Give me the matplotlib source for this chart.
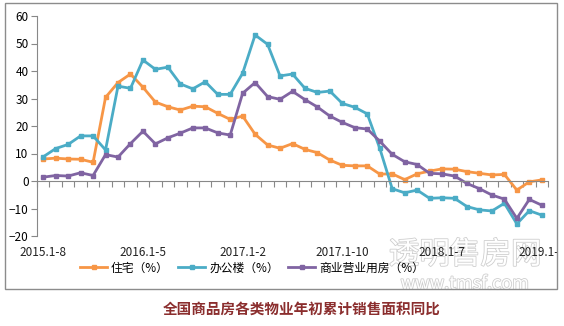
import numpy as np
import matplotlib.pyplot as plt
from matplotlib.patches import Rectangle
from matplotlib.transforms import blended_transform_factory
import matplotlib.patheffects as pe

plt.rcParams['font.family'] = ['Noto Sans CJK SC', 'DejaVu Sans']

# 月份标签 (2015.1-8 ~ 2019.1-4, 每年不含1月单月)
months = []
for y, m0, m1 in [(2015, 8, 12), (2016, 2, 12), (2017, 2, 12), (2018, 2, 12), (2019, 2, 4)]:
    months += [f"{y}.1-{m}" for m in range(m0, m1 + 1)]

zhuzhai = [8.0, 8.3, 8.0, 7.9, 6.8, 30.4, 35.8, 38.9, 34.1, 28.7, 27.0, 25.8, 27.2, 27.0,
           24.6, 22.4, 23.6, 17.0, 13.1, 11.9, 13.6, 11.5, 10.3, 7.6, 5.7, 5.5, 5.5, 2.5,
           2.6, 0.5, 2.6, 3.6, 4.4, 4.3, 3.4, 2.8, 2.2, 2.4, -3.3, -0.3, 0.4]
bangong = [8.8, 11.8, 13.3, 16.4, 16.4, 11.3, 34.5, 33.7, 44.0, 40.6, 41.4, 35.3, 33.5, 36.1,
           31.5, 31.5, 39.2, 53.1, 49.7, 38.2, 38.9, 33.7, 32.2, 32.7, 28.2, 26.8, 24.4, 11.9,
           -2.8, -4.3, -3.3, -6.3, -6.1, -6.3, -9.3, -10.5, -10.9, -8.1, -15.6, -10.8, -12.4]
shangye = [1.4, 2.0, 1.8, 3.0, 2.0, 9.6, 8.7, 13.6, 18.1, 13.5, 15.7, 17.4, 19.3, 19.3,
           17.5, 16.7, 31.9, 35.8, 30.7, 29.7, 32.6, 29.6, 26.9, 23.6, 21.3, 19.4, 18.9, 14.5,
           9.7, 7.0, 6.0, 2.8, 2.6, 1.8, -0.9, -2.8, -5.1, -6.6, -13.6, -6.7, -8.8]

series = [("住宅（%）", zhuzhai, "#F79646"),
          ("办公楼（%）", bangong, "#4BACC6"),
          ("商业营业用房（%）", shangye, "#8064A2")]

W, H = 564, 326
fig = plt.figure(figsize=(W / 100, H / 100), dpi=100)
fig.patch.set_facecolor('white')
ax = fig.add_axes([37 / W, 1 - 236 / H, 511 / W, 220 / H])
ax.patch.set_alpha(0)

x = np.arange(len(months))
for name, vals, c in series:
    ax.plot(x, vals, color=c, lw=2.0, marker='s', ms=3.2, mec=c, mfc=c, label=name)

ax.set_xlim(-0.5, len(months) - 0.5)
ax.set_ylim(-20, 60)
ax.set_yticks(np.arange(-20, 61, 10))
ax.tick_params(axis='y', length=4, width=0.8, color='#888888', labelsize=8.5, pad=2)

# 横轴放在0值处, 刻度在分类边界
for s in ['top', 'right']:
    ax.spines[s].set_visible(False)
ax.spines['left'].set_color('#888888')
ax.spines['bottom'].set_color('#888888')
ax.spines['bottom'].set_position(('data', 0))
ax.set_xticks(np.arange(-0.5, len(months), 1.0))
ax.set_xticklabels([])
ax.tick_params(axis='x', length=4, width=0.8, color='#888888', direction='out')

# 外框
box = Rectangle((5 / W, 1 - 289 / H), 552 / W, 286 / H, transform=fig.transFigure,
                fill=False, edgecolor='#8c8c8c', lw=1.0)
fig.add_artist(box)

trans = blended_transform_factory(ax.transData, fig.transFigure)
for i in range(0, len(months), 8):
    t = ax.text(i, 1 - 252 / H, months[i], transform=trans, ha='center', va='center',
                fontsize=8.5, color='#222222', clip_on=True)
    t.set_clip_path(box)

ax.legend(loc='center', bbox_to_anchor=(252 / W, 1 - 268 / H), bbox_transform=fig.transFigure,
          ncol=3, frameon=False, fontsize=8.5, handlelength=2.3, handletextpad=0.3,
          columnspacing=0.8, borderpad=0)

# 水印(置于底层)
fx = [pe.withStroke(linewidth=1.2, foreground='#cfcfcf')]
fig.text(465 / W, 1 - 255 / H, "透明售房网", ha='center', va='center', fontsize=22,
         color='white', path_effects=fx, zorder=-1)
fig.text(465 / W, 1 - 284 / H, "www.tmsf.com", ha='center', va='center', fontsize=13,
         color='white', path_effects=fx, zorder=-1)

fig.text(302 / W, 1 - 309 / H, "全国商品房各类物业年初累计销售面积同比", ha='center', va='center',
         fontsize=10.5, fontweight='bold', color='#8B2E2E')

fig.savefig("out.png", dpi=100, facecolor='white')
